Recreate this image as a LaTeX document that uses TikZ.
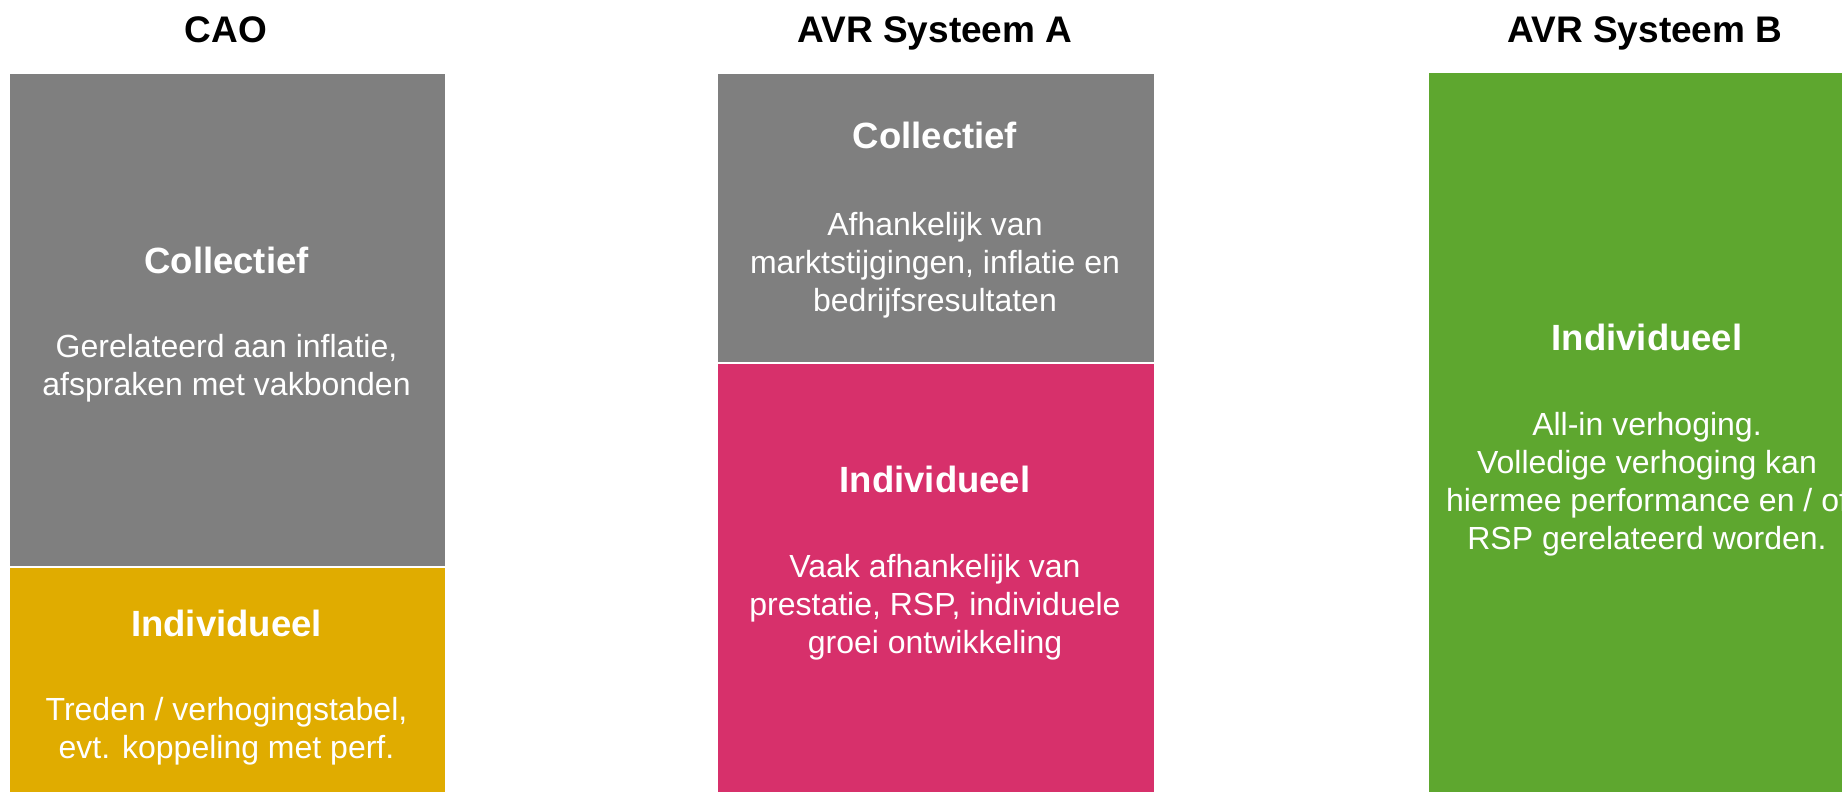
\documentclass[tikz,border=0pt]{standalone}
\usepackage{fontspec}
\setmainfont{Liberation Sans}
\definecolor{boxgrey}{RGB}{127,127,127}
\definecolor{boxyellow}{RGB}{224,172,0}
\definecolor{boxpink}{RGB}{215,48,107}
\definecolor{boxgreen}{RGB}{94,167,47}
\tikzset{
  block/.style={draw=white, line width=2pt, inner sep=0pt, anchor=north west},
  coltitle/.style={anchor=base, font=\fontsize{37}{44}\selectfont\bfseries, text=black, inner sep=0pt},
  head/.style={anchor=base, font=\fontsize{36.5}{42}\selectfont\bfseries, text=white, inner sep=0pt},
  body/.style={anchor=base, align=center, font=\fontsize{32}{38}\selectfont, text=white, inner sep=0pt},
}
\begin{document}
\begin{tikzpicture}[x=1pt,y=-1pt]
\useasboundingbox (0,0) rectangle (1842,792);
\clip (0,0) rectangle (1842,792);
\fill[white] (0,0) rectangle (1842,792);
% titles
\node[coltitle] (t1) at (226,43) {CAO};
\node[coltitle] (t2) at (935,43) {AVR Systeem A};
\node[coltitle] (t3) at (1645,43) {AVR Systeem B};
% CAO (body anchors at the baseline of the last line)
\node[block, fill=boxgrey, minimum width=437pt, minimum height=494pt] (caoc) at (8,72) {};
\node[block, fill=boxyellow, minimum width=437pt, minimum height=240pt] (caoi) at (8,566) {};
\node[head] (caoch) at (226.5,273) {Collectief};
\node[body] (caocb) at (226.5,395) {Gerelateerd aan inflatie,\\afspraken met vakbonden};
\node[head] (caoih) at (226.5,636) {Individueel};
\node[body] (caoib) at (226.5,758) {Treden / verhogingstabel,\\evt. koppeling met perf.};
% AVR A
\node[block, fill=boxgrey, minimum width=438pt, minimum height=290pt] (ac) at (716,72) {};
\node[block, fill=boxpink, minimum width=438pt, minimum height=450pt] (ai) at (716,362) {};
\node[head] (ach) at (935,148) {Collectief};
\node[body] (acb) at (935,311) {Afhankelijk van\\marktstijgingen, inflatie en\\bedrijfsresultaten};
\node[head] (aih) at (935,492) {Individueel};
\node[body] (aib) at (935,653) {Vaak afhankelijk van\\prestatie, RSP, individuele\\groei ontwikkeling};
% AVR B
\node[block, fill=boxgreen, minimum width=440pt, minimum height=740pt] (bi) at (1427,71) {};
\node[head] (bih) at (1647,350) {Individueel};
\node[body] (bib) at (1647,549) {All-in verhoging.\\Volledige verhoging kan\\hiermee performance en / of\\RSP gerelateerd worden.};
\end{tikzpicture}
\end{document}
